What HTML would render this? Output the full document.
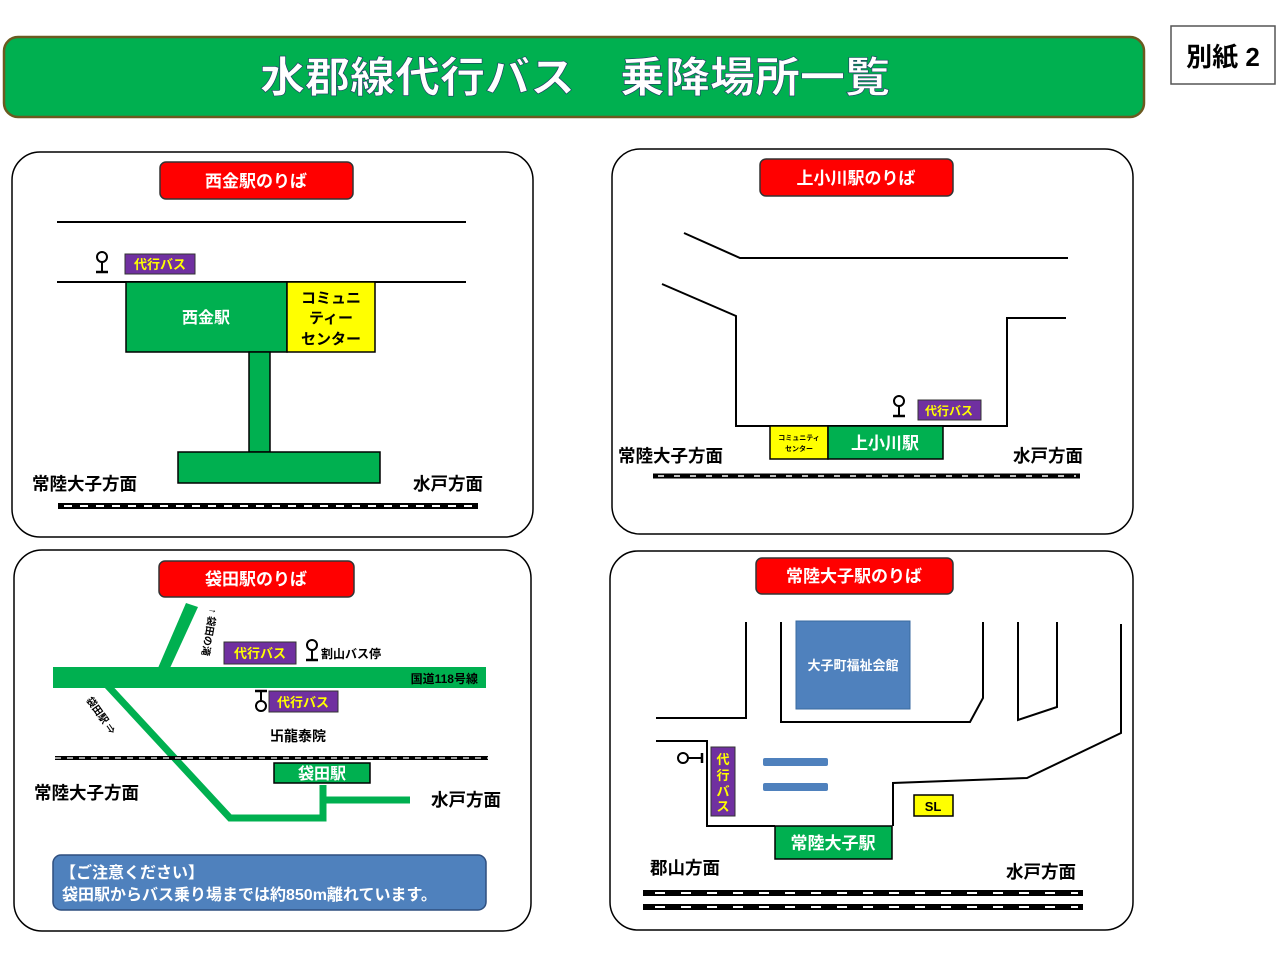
<!DOCTYPE html>
<html><head><meta charset="utf-8"><style>
html,body{margin:0;padding:0;background:#fff;}
svg{display:block;}
text{font-family:"Liberation Sans","Noto Sans CJK JP",sans-serif;font-weight:bold;}
</style></head><body>
<svg width="1280" height="960" viewBox="0 0 1280 960" xmlns="http://www.w3.org/2000/svg">
<defs>
<g id="stop"><circle cx="0" cy="-7" r="5" fill="#fff" stroke="#000" stroke-width="2"/><line x1="0" y1="-2" x2="0" y2="8" stroke="#000" stroke-width="2"/><line x1="-6" y1="8" x2="6" y2="8" stroke="#000" stroke-width="2.5"/></g>
</defs>
<!-- header -->
<rect x="4" y="37" width="1140" height="80" rx="14" fill="#00b050" stroke="#6b5a20" stroke-width="2.5"/>
<text x="575" y="92" text-anchor="middle" font-size="42" fill="#fff" stroke="#1f3864" stroke-width="0.6" font-weight="normal" textLength="630" lengthAdjust="spacingAndGlyphs">水郡線代行バス　乗降場所一覧</text>
<rect x="1171" y="26" width="104" height="58" fill="#fff" stroke="#555" stroke-width="1.5"/>
<text x="1223" y="66" text-anchor="middle" font-size="26" fill="#000">別紙 2</text>

<!-- panel 1 -->
<rect x="12" y="152" width="521" height="385" rx="28" fill="#fff" stroke="#000" stroke-width="1.5"/>
<rect x="160" y="162" width="193" height="37" rx="6" fill="#ff0000" stroke="#333" stroke-width="1.5"/>
<text x="256" y="187" text-anchor="middle" font-size="17" fill="#fff">西金駅のりば</text>
<line x1="57" y1="222" x2="466" y2="222" stroke="#000" stroke-width="2"/>
<line x1="57" y1="282" x2="466" y2="282" stroke="#000" stroke-width="2"/>
<use href="#stop" x="102" y="264"/>
<rect x="125" y="254" width="70" height="20" fill="#7030a0" stroke="#333"/>
<text x="160" y="269" text-anchor="middle" font-size="13" fill="#ffff00">代行バス</text>
<rect x="126" y="282" width="161" height="70" fill="#00b050" stroke="#000" stroke-width="1.5"/>
<text x="206" y="323" text-anchor="middle" font-size="16" fill="#fff">西金駅</text>
<rect x="287" y="282" width="88" height="70" fill="#ffff00" stroke="#000" stroke-width="1.5"/>
<text x="331" y="303" text-anchor="middle" font-size="15" fill="#000">コミュニ</text>
<text x="331" y="323" text-anchor="middle" font-size="15" fill="#000">ティー</text>
<text x="331" y="344" text-anchor="middle" font-size="15" fill="#000">センター</text>
<rect x="249" y="352" width="21" height="100" fill="#00b050" stroke="#000" stroke-width="1.5"/>
<rect x="178" y="452" width="202" height="31" fill="#00b050" stroke="#000" stroke-width="1.5"/>
<text x="32" y="490" font-size="17.5" fill="#000">常陸大子方面</text>
<text x="413" y="490" font-size="17.5" fill="#000">水戸方面</text>
<line x1="58" y1="506" x2="478" y2="506" stroke="#000" stroke-width="6"/>
<line x1="64" y1="506" x2="478" y2="506" stroke="#fff" stroke-width="2" stroke-dasharray="8 8"/>

<!-- panel 2 -->
<rect x="612" y="149" width="521" height="385" rx="28" fill="#fff" stroke="#000" stroke-width="1.5"/>
<rect x="760" y="159" width="193" height="37" rx="6" fill="#ff0000" stroke="#333" stroke-width="1.5"/>
<text x="856" y="184" text-anchor="middle" font-size="17" fill="#fff">上小川駅のりば</text>
<polyline points="684,233 740,258 1068,258" fill="none" stroke="#000" stroke-width="2"/>
<polyline points="662,284 736,316 736,426 1007,426 1007,318 1066,318" fill="none" stroke="#000" stroke-width="2"/>
<use href="#stop" x="899" y="408"/>
<rect x="918" y="400" width="63" height="20" fill="#7030a0" stroke="#333"/>
<text x="949" y="415" text-anchor="middle" font-size="12" fill="#ffff00">代行バス</text>
<rect x="770" y="426" width="58" height="33" fill="#ffff00" stroke="#000" stroke-width="1.5"/>
<text x="799" y="440" text-anchor="middle" font-size="7" fill="#000">コミュニティ</text>
<text x="799" y="451" text-anchor="middle" font-size="7" fill="#000">センター</text>
<rect x="828" y="426" width="115" height="33" fill="#00b050" stroke="#000" stroke-width="1.5"/>
<text x="885" y="449" text-anchor="middle" font-size="17" fill="#fff" font-weight="normal">上小川駅</text>
<text x="618" y="462" font-size="17.5" fill="#000">常陸大子方面</text>
<text x="1013" y="462" font-size="17.5" fill="#000">水戸方面</text>
<line x1="653" y1="476" x2="1080" y2="476" stroke="#000" stroke-width="5"/>
<line x1="658" y1="476" x2="1076" y2="476" stroke="#fff" stroke-width="1.5" stroke-dasharray="6 10"/>

<!-- panel 3 -->
<rect x="14" y="550" width="517" height="381" rx="28" fill="#fff" stroke="#000" stroke-width="1.5"/>
<rect x="159" y="561" width="195" height="36" rx="6" fill="#ff0000" stroke="#333" stroke-width="1.5"/>
<text x="256" y="585" text-anchor="middle" font-size="17" fill="#fff">袋田駅のりば</text>
<polygon points="186,603 198,607 170,668 158,668" fill="#00b050"/>
<polyline points="106,684 230,818 323,818 323,785" fill="none" stroke="#00b050" stroke-width="7"/>
<line x1="323" y1="800" x2="410" y2="800" stroke="#00b050" stroke-width="7"/>
<rect x="53" y="667" width="433" height="21" fill="#00b050"/>
<text x="478" y="683" text-anchor="end" font-size="12" fill="#000" font-weight="normal">国道118号線</text>
<text transform="translate(210,608) rotate(100)" font-size="10" fill="#000" font-weight="normal">↑ 袋田の滝</text>
<text transform="translate(86,700) rotate(55)" font-size="10" fill="#000" font-weight="normal">袋田駅 ⇒</text>
<rect x="224" y="642" width="72" height="22" fill="#7030a0" stroke="#333"/>
<text x="260" y="658" text-anchor="middle" font-size="13" fill="#ffff00">代行バス</text>
<use href="#stop" x="312" y="652"/>
<text x="321" y="658" font-size="12" fill="#000">割山バス停</text>
<g transform="translate(261,699) scale(1,-1)"><use href="#stop"/></g>
<rect x="269" y="691" width="69" height="21" fill="#7030a0" stroke="#333"/>
<text x="303" y="707" text-anchor="middle" font-size="13" fill="#ffff00">代行バス</text>
<text x="270" y="741" font-size="14" fill="#000">卐龍泰院</text>
<line x1="55" y1="758" x2="488" y2="758" stroke="#000" stroke-width="4"/>
<line x1="55" y1="758" x2="488" y2="758" stroke="#fff" stroke-width="1.2" stroke-dasharray="6 6"/>
<rect x="274" y="763" width="96" height="20" fill="#00b050" stroke="#000" stroke-width="1.5"/>
<text x="322" y="779" text-anchor="middle" font-size="16" fill="#fff" font-weight="normal">袋田駅</text>
<text x="34" y="799" font-size="17.5" fill="#000">常陸大子方面</text>
<text x="431" y="806" font-size="17.5" fill="#000">水戸方面</text>
<rect x="53" y="855" width="433" height="55" rx="8" fill="#4f81bd" stroke="#2f4f7f" stroke-width="1.5"/>
<text x="60" y="878" font-size="16" fill="#fff" font-weight="normal">【ご注意ください】</text>
<text x="62" y="900" font-size="16" fill="#fff" font-weight="normal">袋田駅からバス乗り場までは約850m離れています。</text>

<!-- panel 4 -->
<rect x="610" y="551" width="523" height="379" rx="28" fill="#fff" stroke="#000" stroke-width="1.5"/>
<rect x="756" y="558" width="197" height="36" rx="6" fill="#ff0000" stroke="#333" stroke-width="1.5"/>
<text x="854" y="582" text-anchor="middle" font-size="17" fill="#fff">常陸大子駅のりば</text>
<polyline points="746,622 746,718 656,718" fill="none" stroke="#000" stroke-width="2"/>
<polyline points="781,622 781,722 970,722 983,698 983,622" fill="none" stroke="#000" stroke-width="2"/>
<polyline points="1018,622 1018,720 1057,707 1057,622" fill="none" stroke="#000" stroke-width="2"/>
<polyline points="1121,624 1121,733 1027,778 893,783 893,826" fill="none" stroke="#000" stroke-width="2"/>
<polyline points="656,741 707,741 707,826 775,826" fill="none" stroke="#000" stroke-width="2"/>
<rect x="796" y="621" width="114" height="88" fill="#4f81bd" stroke="#3a6aa0"/>
<text x="853" y="670" text-anchor="middle" font-size="13" fill="#fff">大子町福祉会館</text>
<rect x="763" y="758" width="65" height="8" rx="2" fill="#4f81bd"/>
<rect x="763" y="783" width="65" height="8" rx="2" fill="#4f81bd"/>
<rect x="711" y="747" width="24" height="69" fill="#7030a0" stroke="#333"/>
<text x="723" y="764" text-anchor="middle" font-size="13" fill="#ffff00">代</text>
<text x="723" y="780" text-anchor="middle" font-size="13" fill="#ffff00">行</text>
<text x="723" y="796" text-anchor="middle" font-size="13" fill="#ffff00">バ</text>
<text x="723" y="811" text-anchor="middle" font-size="13" fill="#ffff00">ス</text>
<circle cx="683" cy="758" r="5" fill="#fff" stroke="#000" stroke-width="2"/>
<line x1="688" y1="758" x2="702" y2="758" stroke="#000" stroke-width="2"/>
<line x1="702" y1="753" x2="702" y2="763" stroke="#000" stroke-width="2.5"/>
<rect x="775" y="826" width="117" height="33" fill="#00b050" stroke="#000" stroke-width="1.5"/>
<text x="833" y="849" text-anchor="middle" font-size="17" fill="#fff">常陸大子駅</text>
<rect x="914" y="795" width="39" height="21" fill="#ffff00" stroke="#000" stroke-width="1.5"/>
<text x="933" y="811" text-anchor="middle" font-size="13" fill="#000">SL</text>
<text x="650" y="874" font-size="17.5" fill="#000">郡山方面</text>
<text x="1006" y="878" font-size="17.5" fill="#000">水戸方面</text>
<line x1="643" y1="893" x2="1083" y2="893" stroke="#000" stroke-width="6"/>
<line x1="655" y1="893" x2="1078" y2="893" stroke="#fff" stroke-width="2" stroke-dasharray="10 16"/>
<line x1="643" y1="907" x2="1083" y2="907" stroke="#000" stroke-width="6"/>
<line x1="655" y1="907" x2="1078" y2="907" stroke="#fff" stroke-width="2" stroke-dasharray="10 16"/>
</svg>
</body></html>
